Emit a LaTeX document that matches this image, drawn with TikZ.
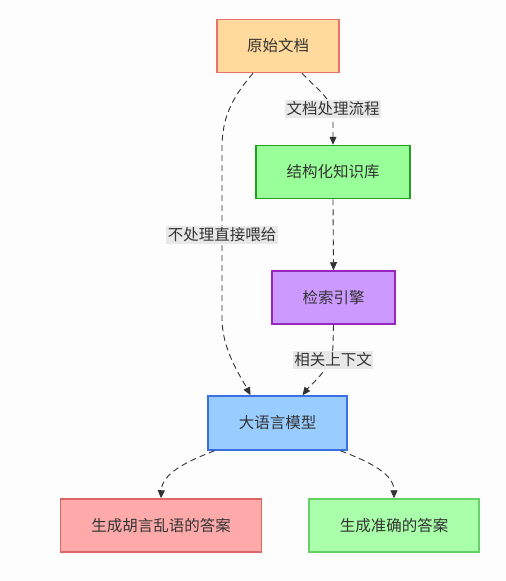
\documentclass[tikz,border=0pt]{standalone}
\usepackage{fontspec}
\setmainfont{Noto Sans CJK SC}
\usetikzlibrary{arrows.meta}
\definecolor{txt}{HTML}{333333}
\definecolor{edgec}{HTML}{333333}
\definecolor{lblbg}{HTML}{E8E8E8}
\definecolor{bgc}{HTML}{FDFDFD}
\definecolor{f1}{HTML}{FFDA9C}\definecolor{d1}{HTML}{E6736B}
\definecolor{f2}{HTML}{99FF99}\definecolor{d2}{HTML}{22A022}
\definecolor{f3}{HTML}{CC99FF}\definecolor{d3}{HTML}{9926BF}
\definecolor{f4}{HTML}{99CCFF}\definecolor{d4}{HTML}{3C6FE0}
\definecolor{f5}{HTML}{FFAAAA}\definecolor{d5}{HTML}{DD6666}
\definecolor{f6}{HTML}{AAFFAA}\definecolor{d6}{HTML}{66D066}
\begin{document}
\begin{tikzpicture}[x=1pt,y=-1pt,
  box/.style={rectangle, line width=1.5pt, minimum height=53pt, text=txt,
    font=\fontsize{15.5}{18}\selectfont, inner sep=0pt},
  lbl/.style={rectangle, fill=lblbg, text=txt, inner sep=1.5pt,
    font=\fontsize{15.5}{18}\selectfont},
  conn/.style={draw=edgec, line width=0.9pt, dash pattern=on 6pt off 4pt,
    -{Triangle[length=8pt,width=7pt]}}
]
\useasboundingbox (0,0) rectangle (506,581);
\fill[bgc] (0,0) rectangle (506,581);

\node[box, fill=f1, draw=d1, minimum width=122pt] (n1) at (278,46) {原始文档};
\node[box, fill=f2, draw=d2, minimum width=154pt] (n2) at (333,172) {结构化知识库};
\node[box, fill=f3, draw=d3, minimum width=123pt] (n3) at (333.5,297.5) {检索引擎};
\node[box, fill=f4, draw=d4, minimum width=139pt, minimum height=54pt] (n4) at (277.5,423) {大语言模型};
\node[box, fill=f5, draw=d5, minimum width=201pt] (n5) at (161,525.5) {生成胡言乱语的答案};
\node[box, fill=f6, draw=d6, minimum width=170pt] (n6) at (394,525.5) {生成准确的答案};

\draw[conn] ([xshift=24pt]n1.south) .. controls (320,92) and (333,100) .. (333,116) -- (n2.north);
\draw[conn] ([xshift=-25pt]n1.south) .. controls (230,100) and (222,120) .. (222,148) -- (222,318) .. controls (222,350) and (240,375) .. ([xshift=-27pt]n4.north);
\draw[conn] (n2.south) -- (n3.north);
\draw[conn] (n3.south) -- (333,345) .. controls (333,368) and (312,383) .. ([xshift=25pt]n4.north);
\draw[conn] ([xshift=-63pt]n4.south) .. controls (185,462) and (162,474) .. (n5.north);
\draw[conn] ([xshift=63pt]n4.south) .. controls (370,462) and (394,474) .. (n6.north);

\node[lbl] (l1) at (333,109) {文档处理流程};
\node[lbl] (l2) at (222,235) {不处理直接喂给};
\node[lbl] (l3) at (333,360) {相关上下文};
\end{tikzpicture}
\end{document}
